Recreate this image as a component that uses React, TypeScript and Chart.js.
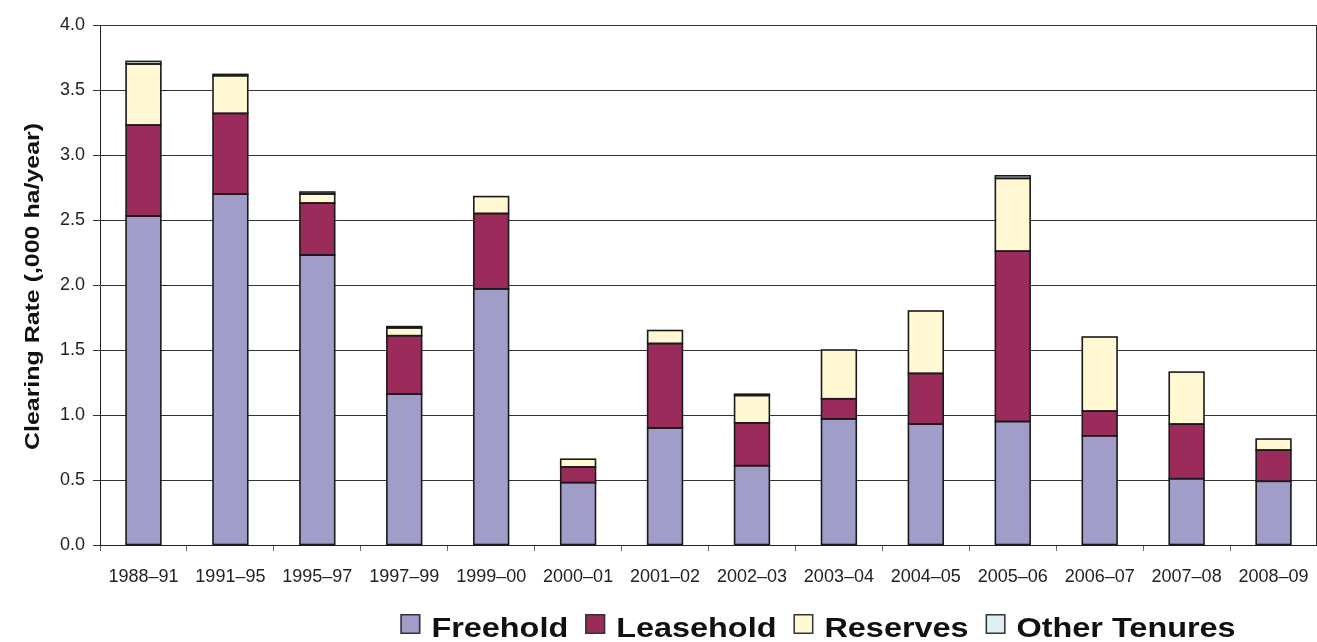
import React, { useEffect, useRef } from "react";
import { Chart, registerables } from "chart.js";

Chart.register(...registerables);

const categories = [
  "1988–91", "1991–95", "1995–97", "1997–99", "1999–00", "2000–01", "2001–02",
  "2002–03", "2003–04", "2004–05", "2005–06", "2006–07", "2007–08", "2008–09",
];
const freehold = [2.53, 2.70, 2.23, 1.16, 1.97, 0.48, 0.90, 0.61, 0.97, 0.93, 0.95, 0.84, 0.51, 0.49];
const leasehold = [0.70, 0.62, 0.40, 0.45, 0.58, 0.12, 0.65, 0.33, 0.155, 0.39, 1.31, 0.19, 0.42, 0.24];
const reserves = [0.47, 0.29, 0.07, 0.06, 0.13, 0.06, 0.10, 0.21, 0.375, 0.48, 0.56, 0.57, 0.40, 0.085];
const otherTenures = [0.02, 0.01, 0.015, 0.01, null, null, null, 0.01, null, null, 0.02, null, null, null];
const yTicks = [0, 0.5, 1.0, 1.5, 2.0, 2.5, 3.0, 3.5, 4.0];
const yTitle = "Clearing Rate (,000 ha/year)";
const seriesNames = ["Freehold", "Leasehold", "Reserves", "Other Tenures"];
const seriesColors = ["#A09EC8", "#9B2B5B", "#FFF8D3", "#DDEEF6"];

const FONT = '"Liberation Sans", Arial, Helvetica, sans-serif';

// Outline every bar segment with a stroke centred on its edges
const outlinePlugin = {
  id: "outline",
  afterDatasetsDraw(chart: any) {
    const ctx = chart.ctx as CanvasRenderingContext2D;
    ctx.save();
    ctx.strokeStyle = "#1a1a1a";
    ctx.lineWidth = 1.6;
    chart.data.datasets.forEach((_d: any, di: number) => {
      const meta = chart.getDatasetMeta(di);
      meta.data.forEach((el: any, i: number) => {
        const v = chart.data.datasets[di].data[i];
        if (v === null || v === undefined) return;
        const { x, y, base, width } = el.getProps(["x", "y", "base", "width"], true);
        const top = Math.min(y, base);
        const h = Math.abs(base - y);
        ctx.strokeRect(x - width / 2, top, width, h);
      });
    });
    ctx.restore();
  },
};

const decorPlugin = {
  id: "decor",
  afterDraw(chart: any) {
    const ctx = chart.ctx as CanvasRenderingContext2D;
    const { right, top, bottom } = chart.chartArea;
    ctx.save();
    // right frame line
    ctx.strokeStyle = "#333";
    ctx.lineWidth = 1;
    ctx.beginPath();
    ctx.moveTo(right - 0.5, top);
    ctx.lineTo(right - 0.5, bottom);
    ctx.stroke();

    // y axis title (wide bold type)
    ctx.font = `bold 20px ${FONT}`;
    const tw = ctx.measureText(yTitle).width;
    const tsx = 327 / tw;
    ctx.fillStyle = "#111";
    ctx.textAlign = "center";
    ctx.textBaseline = "middle";
    ctx.save();
    ctx.translate(33, 286.5);
    ctx.rotate(-Math.PI / 2);
    ctx.scale(tsx, 1);
    ctx.fillText(yTitle, 0, 0);
    ctx.restore();

    // legend
    const sx = 1.2;
    ctx.font = `bold 27px ${FONT}`;
    ctx.textAlign = "left";
    ctx.textBaseline = "alphabetic";
    const items = chart.data.datasets.map((d: any) => ({
      label: d.label as string,
      color: d.backgroundColor as string,
      w: ctx.measureText(d.label).width * sx,
    }));
    const box = 20, gapIn = 11, gapOut = 17;
    let total = 0;
    items.forEach((it: any, i: number) => {
      total += box + gapIn + it.w + (i < items.length - 1 ? gapOut : 0);
    });
    let x = 818 - total / 2;
    items.forEach((it: any) => {
      ctx.fillStyle = it.color;
      ctx.fillRect(x, 614, box, box);
      ctx.strokeStyle = "#333";
      ctx.lineWidth = 1.5;
      ctx.strokeRect(x + 0.75, 614.75, box - 1.5, box - 1.5);
      x += box + gapIn;
      ctx.fillStyle = "#111";
      ctx.save();
      ctx.translate(x, 637);
      ctx.scale(sx, 1);
      ctx.fillText(it.label, 0, 0);
      ctx.restore();
      x += it.w + gapOut;
    });
    ctx.restore();
  },
};

export default function App() {
  const canvasRef = useRef<HTMLCanvasElement | null>(null);

  useEffect(() => {
    if (!canvasRef.current) return;
    const values = [freehold, leasehold, reserves, otherTenures];
    const chart = new Chart(canvasRef.current, {
      type: "bar",
      data: {
        labels: categories,
        datasets: values.map((v, i) => ({
          label: seriesNames[i],
          data: v,
          backgroundColor: seriesColors[i],
          borderWidth: 0,
          inflateAmount: 0,
          barPercentage: 0.4,
          categoryPercentage: 1.0,
        })),
      },
      options: {
        responsive: false,
        animation: false,
        events: [],
        layout: { padding: { top: 25, right: 0, left: 0, bottom: 0 } },
        plugins: {
          legend: { display: false },
          tooltip: { enabled: false },
          title: { display: false },
        },
        scales: {
          x: {
            stacked: true,
            afterFit: (scale: any) => {
              scale.height = 97;
              scale.paddingLeft = 0;
              scale.paddingRight = 0;
            },
            grid: {
              offset: true,
              drawOnChartArea: false,
              drawTicks: true,
              tickLength: 6,
              color: "#666",
            },
            border: { display: true, color: "#222", width: 1 },
            ticks: {
              color: "#222",
              font: { family: FONT, size: 18 },
              padding: 15,
              maxRotation: 0,
              autoSkip: false,
            },
          },
          y: {
            stacked: true,
            min: 0,
            max: 4,
            afterFit: (scale: any) => {
              scale.width = 100;
            },
            afterBuildTicks: (scale: any) => {
              scale.ticks = yTicks.map((v) => ({ value: v }));
            },
            grid: {
              color: "#333",
              lineWidth: 1,
              drawTicks: true,
              tickLength: 7,
            },
            border: { display: true, color: "#222", width: 1 },
            ticks: {
              color: "#222",
              font: { family: FONT, size: 18 },
              padding: 8,
              callback: (v: any) => Number(v).toFixed(1),
            },
          },
        },
      },
      plugins: [outlinePlugin, decorPlugin],
    });
    return () => chart.destroy();
  }, []);

  return (
    <div style={{ position: "absolute", left: 0, top: 0, width: 1317, height: 642, background: "#fff" }}>
      <canvas ref={canvasRef} width={1317} height={642} style={{ display: "block" }} />
    </div>
  );
}
